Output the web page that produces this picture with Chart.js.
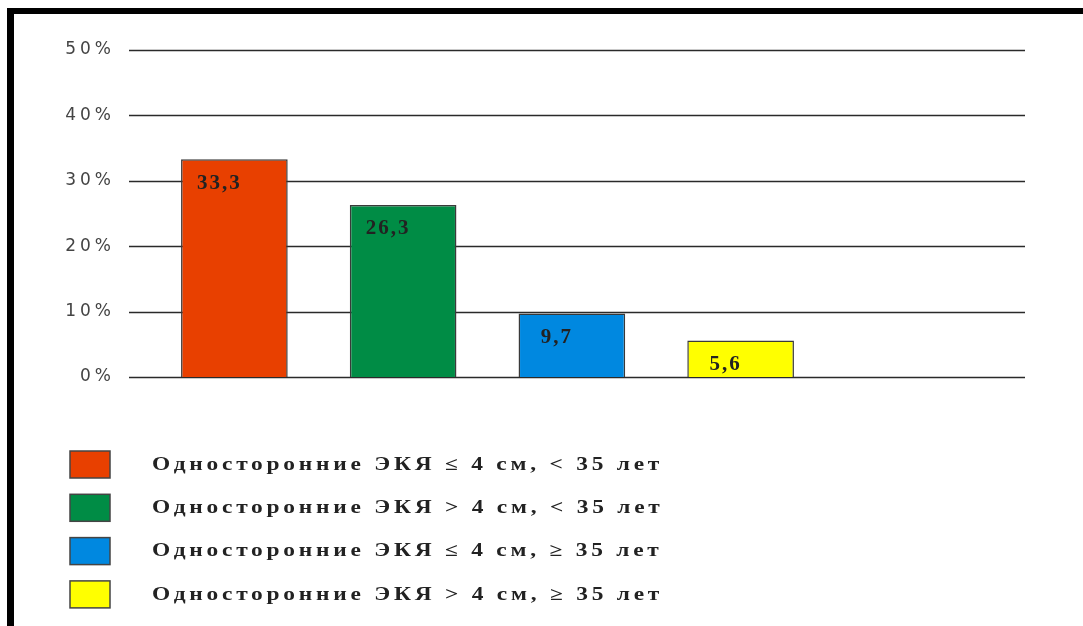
<!DOCTYPE html>
<html>
<head>
<meta charset="utf-8">
<script src="https://cdn.jsdelivr.net/npm/chart.js@4/dist/chart.umd.min.js"></script>
<style>
  html, body { margin: 0; padding: 0; background: #fff; overflow: hidden; }
  .frame {
    position: absolute; left: 7px; top: 8px;
    width: 2000px; height: 2000px;
    border-top: 6px solid #000; border-left: 7px solid #000;
  }
  .wrap { position: absolute; left: 0; top: 0; width: 1083px; height: 626px; }
</style>
</head>
<body>
<div class="frame"></div>
<div class="wrap"><canvas id="chart"></canvas></div>
<script>
// categories (legend entries) and their values, %
const categories = [
  'Односторонние ЭКЯ ≤ 4 см, < 35 лет',
  'Односторонние ЭКЯ > 4 см, < 35 лет',
  'Односторонние ЭКЯ ≤ 4 см, ≥ 35 лет',
  'Односторонние ЭКЯ > 4 см, ≥ 35 лет'
];
const values = [33.3, 26.3, 9.7, 5.6];
const colors = ['#E84000', '#008C45', '#0088E0', '#FFFF00'];
const yTicks = [0, 10, 20, 30, 40, 50];

const fmt = v => String(v).replace('.', ',');

// horizontal grid lines drawn from the y scale, spanning wider than the bar area
const gridPlugin = {
  id: 'wideGrid',
  beforeDatasetsDraw(chart) {
    const { ctx, scales: { y } } = chart;
    ctx.save();
    ctx.strokeStyle = '#2a2a2a';
    ctx.lineWidth = 1.5;
    yTicks.forEach(t => {
      const py = Math.round(y.getPixelForValue(t)) + 0.5;
      ctx.beginPath();
      ctx.moveTo(129, py);
      ctx.lineTo(1025, py);
      ctx.stroke();
    });
    ctx.restore();
  }
};

// spaced-out tick text
const spacingPlugin = {
  id: 'spacing',
  beforeDraw(chart) { chart.ctx.letterSpacing = '4px'; },
  afterDraw(chart) { chart.ctx.letterSpacing = '0px'; }
};

// value labels inside the bars
const valueLabels = {
  id: 'valueLabels',
  afterDatasetsDraw(chart) {
    const { ctx } = chart;
    const meta = chart.getDatasetMeta(0);
    ctx.save();
    ctx.letterSpacing = '2px';
    ctx.font = 'bold 21px "Liberation Serif"';
    ctx.fillStyle = '#222';
    ctx.textAlign = 'center';
    ctx.textBaseline = 'middle';
    meta.data.forEach((bar, i) => {
      ctx.fillText(fmt(values[i]), bar.x - 15, bar.y + 24);
    });
    ctx.restore();
  }
};

// vertical legend below the plot
const legendPlugin = {
  id: 'sideLegend',
  afterDraw(chart) {
    const { ctx } = chart;
    ctx.save();
    categories.forEach((label, i) => {
      const top = 451 + i * 43.3;
      ctx.fillStyle = colors[i];
      ctx.fillRect(70, top, 40, 27);
      ctx.strokeStyle = '#444';
      ctx.lineWidth = 1.5;
      ctx.strokeRect(70, top, 40, 27);
      ctx.save();
      ctx.translate(152, top + 14);
      ctx.scale(1.3, 1);
      ctx.letterSpacing = '2.9px';
      ctx.font = 'bold 18px "Liberation Serif"';
      ctx.fillStyle = '#222';
      ctx.textAlign = 'left';
      ctx.textBaseline = 'middle';
      ctx.fillText(label, 0, 0);
      ctx.restore();
    });
    ctx.restore();
  }
};

new Chart(document.getElementById('chart'), {
  type: 'bar',
  data: {
    labels: categories,
    datasets: [{
      data: values,
      backgroundColor: colors,
      borderColor: '#3a3a3a',
      borderWidth: 1.5,
      barPercentage: 0.632,
      categoryPercentage: 1
    }]
  },
  options: {
    responsive: true,
    maintainAspectRatio: false,
    animation: false,
    layout: { padding: { top: 50, right: 258, bottom: 249, left: 0 } },
    plugins: {
      legend: { display: false },
      tooltip: { enabled: false }
    },
    scales: {
      x: { display: false },
      y: {
        min: 0,
        max: 50,
        afterFit(scale) { scale.width = 150; },
        afterBuildTicks(scale) { scale.ticks = yTicks.map(v => ({ value: v })); },
        border: { display: false },
        grid: { display: false, drawTicks: false },
        ticks: {
          padding: 35,
          color: '#444',
          font: { family: '"DejaVu Sans"', size: 17 },
          callback: v => v + '%'
        }
      }
    }
  },
  plugins: [gridPlugin, spacingPlugin, valueLabels, legendPlugin]
});
</script>
</body>
</html>
